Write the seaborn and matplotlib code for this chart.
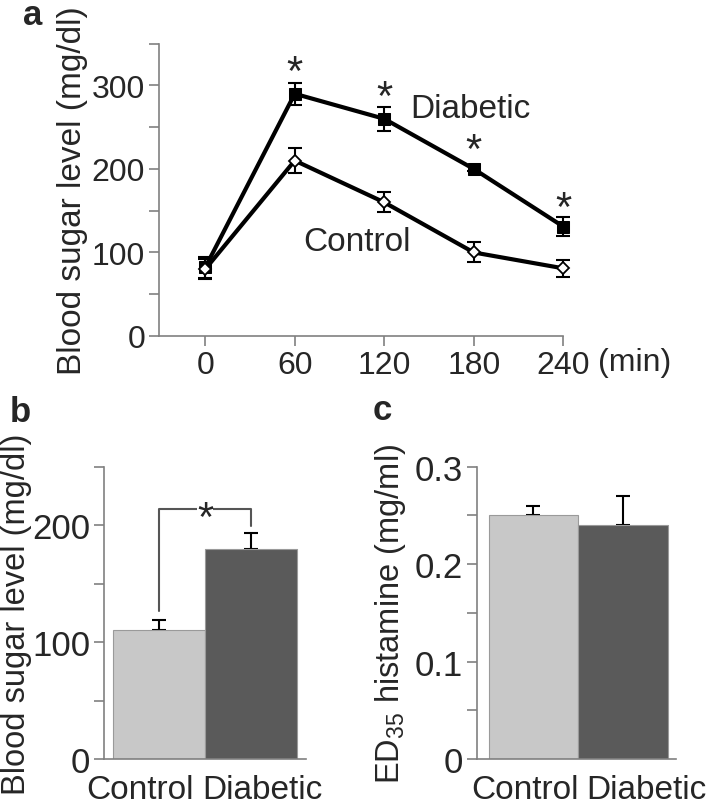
import numpy as np
import pandas as pd
import seaborn as sns
import matplotlib.pyplot as plt
from matplotlib.ticker import MultipleLocator
from matplotlib.transforms import ScaledTranslation

sns.set_style('ticks')
plt.rcParams['font.family'] = ['Liberation Sans', 'DejaVu Sans']
plt.rcParams['mathtext.default'] = 'regular'

# panel a: time course
minutes = [0, 60, 120, 180, 240]
diabetic_mean = [82, 290, 260, 200, 131]
diabetic_err = [13, 13, 14, 3, 11]
control_mean = [80, 210, 160, 100, 81]
control_err = [12, 15, 12, 12, 10]
star_times = [60, 120, 180, 240]
star_y = [327, 297, 233, 164]

# panel b: blood sugar
groups = ['Control', 'Diabetic']
sugar_mean = [110, 180]
sugar_err = [9, 13]

# panel c: ED35 histamine
ed35_mean = [0.25, 0.24]
ed35_err = [0.01, 0.03]

bar_colors = ['#c8c8c8', '#5a5a5a']
spine_col = '#808080'

fig = plt.figure(figsize=(7.13, 8.12), dpi=100)
ax_a = fig.add_axes([0.223, 0.585, 0.567, 0.360])
ax_b = fig.add_axes([0.146, 0.064, 0.283, 0.360])
ax_c = fig.add_axes([0.669, 0.064, 0.279, 0.360])


def style_axis(ax, tick_size):
    sns.despine(ax=ax)
    for s in ['left', 'bottom']:
        ax.spines[s].set_color(spine_col)
        ax.spines[s].set_linewidth(1.2)
    ax.tick_params(which='both', direction='out', length=7, width=1.2,
                   color=spine_col, labelsize=tick_size, pad=3)


# ---- a ----
df_a = pd.DataFrame({'min': minutes * 2,
                     'sugar': diabetic_mean + control_mean,
                     'group': ['Diabetic'] * 5 + ['Control'] * 5})
for means, errs in [(diabetic_mean, diabetic_err), (control_mean, control_err)]:
    ax_a.errorbar(minutes, means, yerr=errs, fmt='none', ecolor='black',
                  elinewidth=1.5, capsize=5, capthick=1.5, zorder=2,
                  clip_on=False)
sns.lineplot(data=df_a[df_a.group == 'Diabetic'], x='min', y='sugar', ax=ax_a,
             color='black', lw=3.0, marker='s', markersize=9,
             markerfacecolor='black', markeredgecolor='black', zorder=3,
             clip_on=False)
sns.lineplot(data=df_a[df_a.group == 'Control'], x='min', y='sugar', ax=ax_a,
             color='black', lw=3.0, marker='D', markersize=6.5,
             markerfacecolor='white', markeredgecolor='black',
             markeredgewidth=1.3, zorder=3, clip_on=False)
for t, sy in zip(star_times, star_y):
    ax_a.text(t, sy - 12, '*', ha='center', va='center', fontsize=30)
ax_a.text(178, 272, 'Diabetic', ha='center', va='center', fontsize=24)
ax_a.text(102, 113, 'Control', ha='center', va='center', fontsize=24)
ax_a.set_xlim(-31, 240)
ax_a.set_ylim(0, 350)
ax_a.set_xticks(minutes)
ax_a.yaxis.set_major_locator(MultipleLocator(100))
ax_a.yaxis.set_minor_locator(MultipleLocator(50))
ax_a.set_xlabel('')
ax_a.set_ylabel('Blood sugar level (mg/dl)', fontsize=24)
ax_a.yaxis.set_label_coords(-0.176, 0.5)
style_axis(ax_a, 23)
ax_a.text(1.087, -0.09, '(min)', transform=ax_a.transAxes, ha='left',
          va='center', fontsize=23)
fig.text(0.032, 0.969, 'a', fontsize=25, fontweight='bold', va='baseline')

# ---- b and c ----
for ax, means, errs, yl, ymax, major in [
        (ax_b, sugar_mean, sugar_err, 'Blood sugar level (mg/dl)', 250, 100),
        (ax_c, ed35_mean, ed35_err, 'ED$_{35}$ histamine (mg/ml)', 0.3, 0.1)]:
    df = pd.DataFrame({'group': groups, 'val': means})
    sns.barplot(data=df, x='group', y='val', hue='group', palette=bar_colors,
                width=1.0, edgecolor='#9a9a9a', linewidth=0.8, legend=False,
                ax=ax, zorder=2)
    ax.errorbar([0, 1], means, yerr=[[0, 0], errs], fmt='none',
                ecolor='black', elinewidth=1.5, capsize=5, capthick=1.5,
                zorder=1)
    ax.set_ylim(0, ymax)
    ax.yaxis.set_major_locator(MultipleLocator(major))
    ax.yaxis.set_minor_locator(MultipleLocator(major / 2))
    ax.set_xlabel('')
    ax.set_ylabel(yl, fontsize=23.5)
    style_axis(ax, 25)
    ax.tick_params(axis='x', length=0, labelsize=24, pad=11)

ax_b.yaxis.set_label_coords(-0.356, 0.5)
ax_c.yaxis.set_label_coords(-0.347, 0.5)
fig.text(0.014, 0.480, 'b', fontsize=25, fontweight='bold', va='baseline')
fig.text(0.522, 0.483, 'c', fontsize=25, fontweight='bold', va='baseline')

ax_b.set_xlim(-0.6, 1.6)
ax_c.set_xlim(-0.63, 1.59)
ax_b.set_yticks([0, 100, 200])
ax_c.set_yticks([0, 0.1, 0.2, 0.3])
ax_c.set_yticklabels(['0', '0.1', '0.2', '0.3'])

# pull the two group names together like the original
for ax, dx0, dx1 in [(ax_b, -0.19, 0.12), (ax_c, -0.08, 0.23)]:
    labs = ax.get_xticklabels()
    labs[0].set_transform(labs[0].get_transform() +
                          ScaledTranslation(dx0, 0, fig.dpi_scale_trans))
    labs[1].set_transform(labs[1].get_transform() +
                          ScaledTranslation(dx1, 0, fig.dpi_scale_trans))

# significance bracket in b
top = 214
ax_b.plot([0, 0, 1, 1], [sugar_mean[0] + sugar_err[0] + 8, top, top,
                         sugar_mean[1] + sugar_err[1] + 6],
          color='#555555', lw=1.5, zorder=3)
ax_b.text(0.5, top - 9, '*', ha='center', va='center', fontsize=30,
          bbox=dict(facecolor='white', edgecolor='none', pad=0.0), zorder=4)

fig.savefig('out.png', dpi=100)
